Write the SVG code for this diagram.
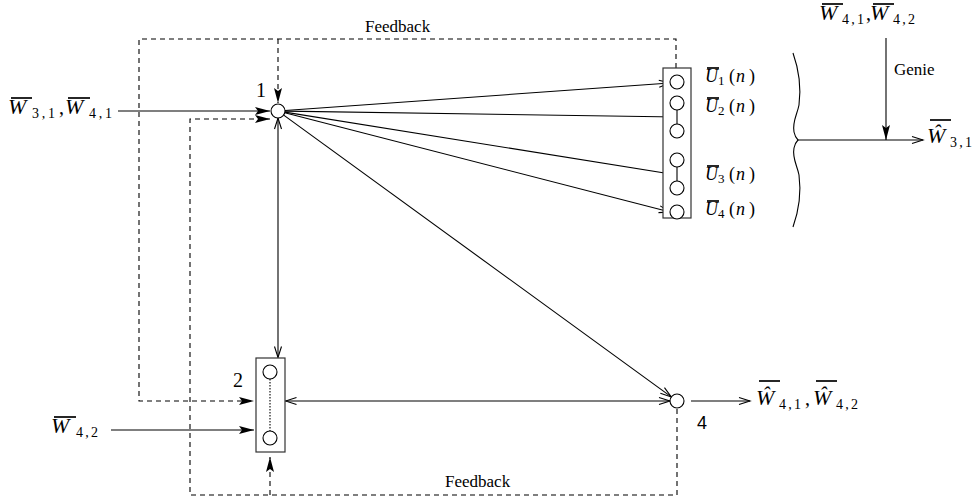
<svg xmlns="http://www.w3.org/2000/svg" width="978" height="499" viewBox="0 0 978 499">
<style>
  .ln{fill:none;stroke:#000;stroke-width:1.1}
  .dash{fill:none;stroke:#000;stroke-width:1.1;stroke-dasharray:5,4}
  .box{fill:#fff;stroke:#333;stroke-width:1.2}
  .nd{fill:#fff;stroke:#000;stroke-width:1.1}
  .ob{stroke:#000;stroke-width:1.7}
  .t{font-family:"Liberation Serif",serif;fill:#000}
  .mi{font-family:"Liberation Serif",serif;font-style:italic;fill:#000;font-size:22px}
  .sb{font-family:"Liberation Serif",serif;fill:#000;font-size:14px}
  .ul{font-family:"Liberation Serif",serif;fill:#000;font-size:18px}
</style>
<defs>
  <marker id="fa" markerUnits="userSpaceOnUse" markerWidth="16" markerHeight="10" refX="15" refY="4.5" orient="auto-start-reverse">
    <path d="M0,0.5 L15,4.5 L0,8.5 L3,4.5 Z" fill="#000"/>
  </marker>
  <marker id="oa" markerUnits="userSpaceOnUse" markerWidth="14" markerHeight="10" refX="12" refY="5" orient="auto-start-reverse">
    <path d="M1,1.5 L12,5 L1,8.5" fill="none" stroke="#000" stroke-width="1.1"/>
  </marker>
</defs>

<g id="connectors">
  <path class="dash" d="M676,68 V39 H139 V401 H254" marker-end="url(#fa)"/>
  <path class="dash" d="M278,39 V103" marker-end="url(#fa)"/>
  <path class="dash" d="M677,409 V495 H190 V119 H270" marker-end="url(#fa)"/>
  <path class="dash" d="M270,495 V457" marker-end="url(#fa)"/>
  <path class="ln" d="M118,111 H270" marker-end="url(#fa)"/>
  <path class="ln" d="M111,430 H254" marker-end="url(#fa)"/>
  <path class="ln" d="M285,110.5 L670,83" marker-end="url(#oa)"/>
  <path class="ln" d="M285,111.1 L677,117" marker-end="url(#oa)"/>
  <path class="ln" d="M284.9,112.1 L677,175" marker-end="url(#oa)"/>
  <path class="ln" d="M284.8,112.7 L670,212" marker-end="url(#oa)"/>
  <path class="ln" d="M283.7,115.1 L671.3,396.9" marker-end="url(#oa)"/>
  <path class="ln" d="M278,118 V357.5" marker-start="url(#oa)" marker-end="url(#oa)"/>
  <path class="ln" d="M285.5,401 H670" marker-start="url(#oa)" marker-end="url(#oa)"/>
  <path class="ln" d="M691,401 H750" marker-end="url(#oa)"/>
  <path class="ln" d="M798,140 H923" marker-end="url(#oa)"/>
  <path class="ln" d="M886,38 V140" marker-end="url(#fa)"/>
  <path class="ln" d="M793,53 C799,70 801,90 799,105 C797,115 792,122 794,132 C795,137 797,139 798,140 C797,141 795,143 794,148 C792,158 797,165 799,175 C801,190 799,210 793,227"/>
</g>

<g id="node1">
  <circle class="nd" cx="278" cy="111" r="7"/>
  <text class="t" x="256" y="97" font-size="20">1</text>
</g>

<g id="node2">
  <rect class="box" x="256" y="358" width="29" height="94"/>
  <circle class="nd" cx="270" cy="372" r="7"/>
  <circle class="nd" cx="270" cy="438" r="7"/>
  <line x1="270" y1="379" x2="270" y2="431" stroke="#000" stroke-width="1.1" stroke-dasharray="1.5,1.5"/>
  <text class="t" x="233" y="387" font-size="20">2</text>
</g>

<g id="node4">
  <circle class="nd" cx="677" cy="401" r="7"/>
  <text x="697" y="429" font-size="18" font-family="Liberation Sans, sans-serif">4</text>
</g>

<g id="nodeU">
  <rect class="box" x="663" y="68" width="28" height="150"/>
  <circle class="nd" cx="677" cy="82" r="7"/>
  <circle class="nd" cx="677" cy="103" r="7"/>
  <circle class="nd" cx="677" cy="131" r="7"/>
  <circle class="nd" cx="677" cy="160" r="7"/>
  <circle class="nd" cx="677" cy="188" r="7"/>
  <circle class="nd" cx="677" cy="212" r="7"/>
  <line class="ln" x1="677" y1="110" x2="677" y2="124"/>
  <line class="ln" x1="677" y1="167" x2="677" y2="181"/>
  <line class="ob" x1="707" y1="68" x2="719" y2="68" stroke-width="1.5"/>
  <text class="ul" x="705" y="82"><tspan font-style="italic">U</tspan><tspan font-size="13" dy="3">1</tspan><tspan x="729" dy="-3">(</tspan><tspan x="736" font-style="italic">n</tspan><tspan x="749">)</tspan></text>
  <line class="ob" x1="707" y1="98" x2="719" y2="98" stroke-width="1.5"/>
  <text class="ul" x="705" y="112"><tspan font-style="italic">U</tspan><tspan font-size="13" dy="3">2</tspan><tspan x="729" dy="-3">(</tspan><tspan x="736" font-style="italic">n</tspan><tspan x="749">)</tspan></text>
  <line class="ob" x1="707" y1="166" x2="719" y2="166" stroke-width="1.5"/>
  <text class="ul" x="705" y="180"><tspan font-style="italic">U</tspan><tspan font-size="13" dy="3">3</tspan><tspan x="729" dy="-3">(</tspan><tspan x="736" font-style="italic">n</tspan><tspan x="749">)</tspan></text>
  <line class="ob" x1="707" y1="201" x2="719" y2="201" stroke-width="1.5"/>
  <text class="ul" x="705" y="215"><tspan font-style="italic">U</tspan><tspan font-size="13" dy="3">4</tspan><tspan x="729" dy="-3">(</tspan><tspan x="736" font-style="italic">n</tspan><tspan x="749">)</tspan></text>
</g>

<g id="labels">
  <text class="t" x="365" y="32" font-size="17">Feedback</text>
  <text class="t" x="445" y="487" font-size="17">Feedback</text>
  <text class="t" x="894" y="75" font-size="17">Genie</text>

  <line class="ob" x1="11" y1="98" x2="32" y2="98"/>
  <text class="mi" x="8" y="114">W</text>
  <text class="sb" x="32" y="118" textLength="23" lengthAdjust="spacing">3,1</text>
  <text class="t" x="59" y="114" font-size="20">,</text>
  <line class="ob" x1="68" y1="98" x2="90" y2="98"/>
  <text class="mi" x="65" y="114">W</text>
  <text class="sb" x="89" y="118" textLength="23" lengthAdjust="spacing">4,1</text>

  <line class="ob" x1="54" y1="417" x2="76" y2="417"/>
  <text class="mi" x="51" y="433">W</text>
  <text class="sb" x="76" y="437" textLength="22" lengthAdjust="spacing">4,2</text>

  <line class="ob" x1="822" y1="4" x2="843" y2="4"/>
  <text class="mi" x="819" y="20">W</text>
  <text class="sb" x="842" y="24" textLength="22" lengthAdjust="spacing">4,1</text>
  <text class="t" x="866" y="20" font-size="20">,</text>
  <line class="ob" x1="873" y1="4" x2="894" y2="4"/>
  <text class="mi" x="870" y="20">W</text>
  <text class="sb" x="893" y="24" textLength="22" lengthAdjust="spacing">4,2</text>

  <line class="ob" x1="930" y1="120" x2="951" y2="120"/>
  <text class="mi" x="927" y="143">Ŵ</text>
  <text class="sb" x="950" y="147" textLength="22" lengthAdjust="spacing">3,1</text>

  <line class="ob" x1="759" y1="381" x2="780" y2="381"/>
  <text class="mi" x="756" y="405">Ŵ</text>
  <text class="sb" x="779" y="409" textLength="22" lengthAdjust="spacing">4,1</text>
  <text class="t" x="805" y="405" font-size="20">,</text>
  <line class="ob" x1="816" y1="381" x2="837" y2="381"/>
  <text class="mi" x="813" y="405">Ŵ</text>
  <text class="sb" x="836" y="409" textLength="22" lengthAdjust="spacing">4,2</text>
</g>
</svg>
